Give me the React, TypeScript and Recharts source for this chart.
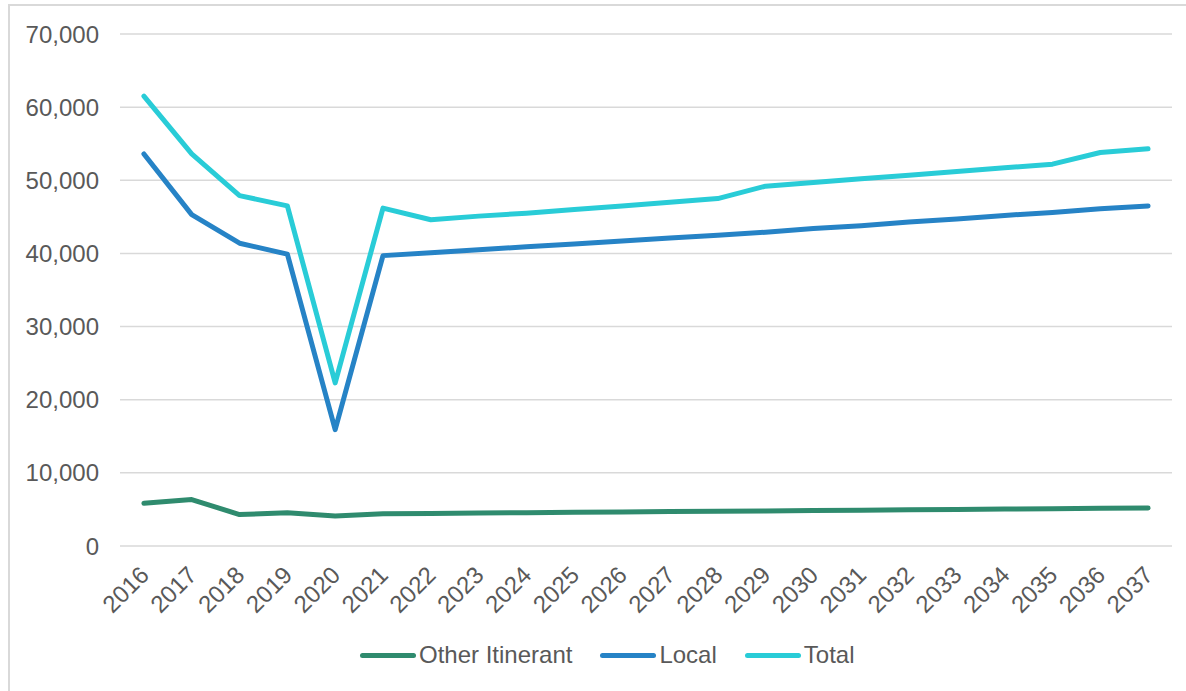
import React from 'react';
import { LineChart, Line, XAxis, YAxis, CartesianGrid, Legend } from 'recharts';

const years = [
  2016, 2017, 2018, 2019, 2020, 2021, 2022, 2023, 2024, 2025, 2026,
  2027, 2028, 2029, 2030, 2031, 2032, 2033, 2034, 2035, 2036, 2037,
];

const otherItinerant = [
  5850, 6350, 4300, 4550, 4100, 4400, 4450, 4500, 4550, 4600, 4650,
  4700, 4750, 4800, 4850, 4900, 4950, 5000, 5050, 5100, 5150, 5200,
];

const local = [
  53600, 45300, 41400, 39900, 15900, 39700, 40100, 40500, 40900, 41300, 41700,
  42100, 42500, 42900, 43400, 43800, 44300, 44700, 45200, 45600, 46100, 46500,
];

const total = [
  61500, 53600, 47900, 46500, 22300, 46200, 44600, 45100, 45500, 46000, 46500,
  47000, 47500, 49200, 49700, 50200, 50700, 51200, 51700, 52200, 53800, 54300,
];

const yTicks = [0, 10000, 20000, 30000, 40000, 50000, 60000, 70000];

const series = [
  { key: 'other', name: 'Other Itinerant', color: '#2F8B6E' },
  { key: 'local', name: 'Local', color: '#2683C6' },
  { key: 'total', name: 'Total', color: '#29CCD7' },
];

const data = years.map((year, i) => ({
  year,
  other: otherItinerant[i],
  local: local[i],
  total: total[i],
}));

const FONT = '"Liberation Sans", Arial, sans-serif';
const TEXT = '#595959';
const SIZE = 24;

const YearTick = (props: any) => {
  const { x, y, payload } = props;
  const ax = x - 6;
  const ay = y + 10;
  return (
    <text
      x={ax}
      y={ay}
      transform={`rotate(-45, ${ax}, ${ay})`}
      textAnchor="end"
      dominantBaseline="hanging"
      fill={TEXT}
      fontSize={SIZE}
      fontFamily={FONT}
    >
      {payload.value}
    </text>
  );
};

const LegendContent = () => (
  <div style={{ display: 'flex', alignItems: 'center', paddingLeft: 360, fontFamily: FONT, fontSize: SIZE, color: TEXT }}>
    {series.map((s, i) => (
      <div key={s.key} style={{ display: 'flex', alignItems: 'center', marginLeft: i === 0 ? 0 : 28 }}>
        <span style={{ display: 'inline-block', width: 56, height: 5, borderRadius: 3, background: s.color }} />
        <span style={{ marginLeft: 3 }}>{s.name}</span>
      </div>
    ))}
  </div>
);

export default function App() {
  return (
    <div style={{ position: 'absolute', left: 0, top: 0, width: 1186, height: 691, background: '#fff' }}>
      <div
        style={{
          position: 'absolute',
          left: 8,
          top: 4,
          right: 0,
          bottom: 0,
          borderTop: '2px solid #d9d9d9',
          borderLeft: '2px solid #d9d9d9',
        }}
      />
      <LineChart
        width={1186}
        height={691}
        data={data}
        margin={{ top: 34, right: 14, left: 0, bottom: 0 }}
        style={{ position: 'absolute', left: 0, top: 0 }}
      >
        <CartesianGrid vertical={false} stroke="#d9d9d9" strokeWidth={1.5} />
        <XAxis
          dataKey="year"
          type="number"
          domain={[2015.5, 2037.5]}
          ticks={years}
          interval={0}
          axisLine={false}
          tickLine={false}
          height={117}
          tick={<YearTick />}
        />
        <YAxis
          width={120}
          domain={[0, 70000]}
          ticks={yTicks}
          axisLine={false}
          tickLine={false}
          tickSize={0}
          tickMargin={21}
          tickFormatter={(v: number) => v.toLocaleString('en-US')}
          tick={{ fill: TEXT, fontSize: SIZE, fontFamily: FONT }}
        />
        <Legend
          verticalAlign="bottom"
          content={<LegendContent />}
          wrapperStyle={{ left: 0, top: 641, width: 1186 }}
        />
        {series.map((s) => (
          <Line
            key={s.key}
            type="linear"
            dataKey={s.key}
            name={s.name}
            stroke={s.color}
            strokeWidth={5}
            strokeLinecap="round"
            strokeLinejoin="round"
            dot={false}
            activeDot={false}
            isAnimationActive={false}
          />
        ))}
      </LineChart>
    </div>
  );
}
